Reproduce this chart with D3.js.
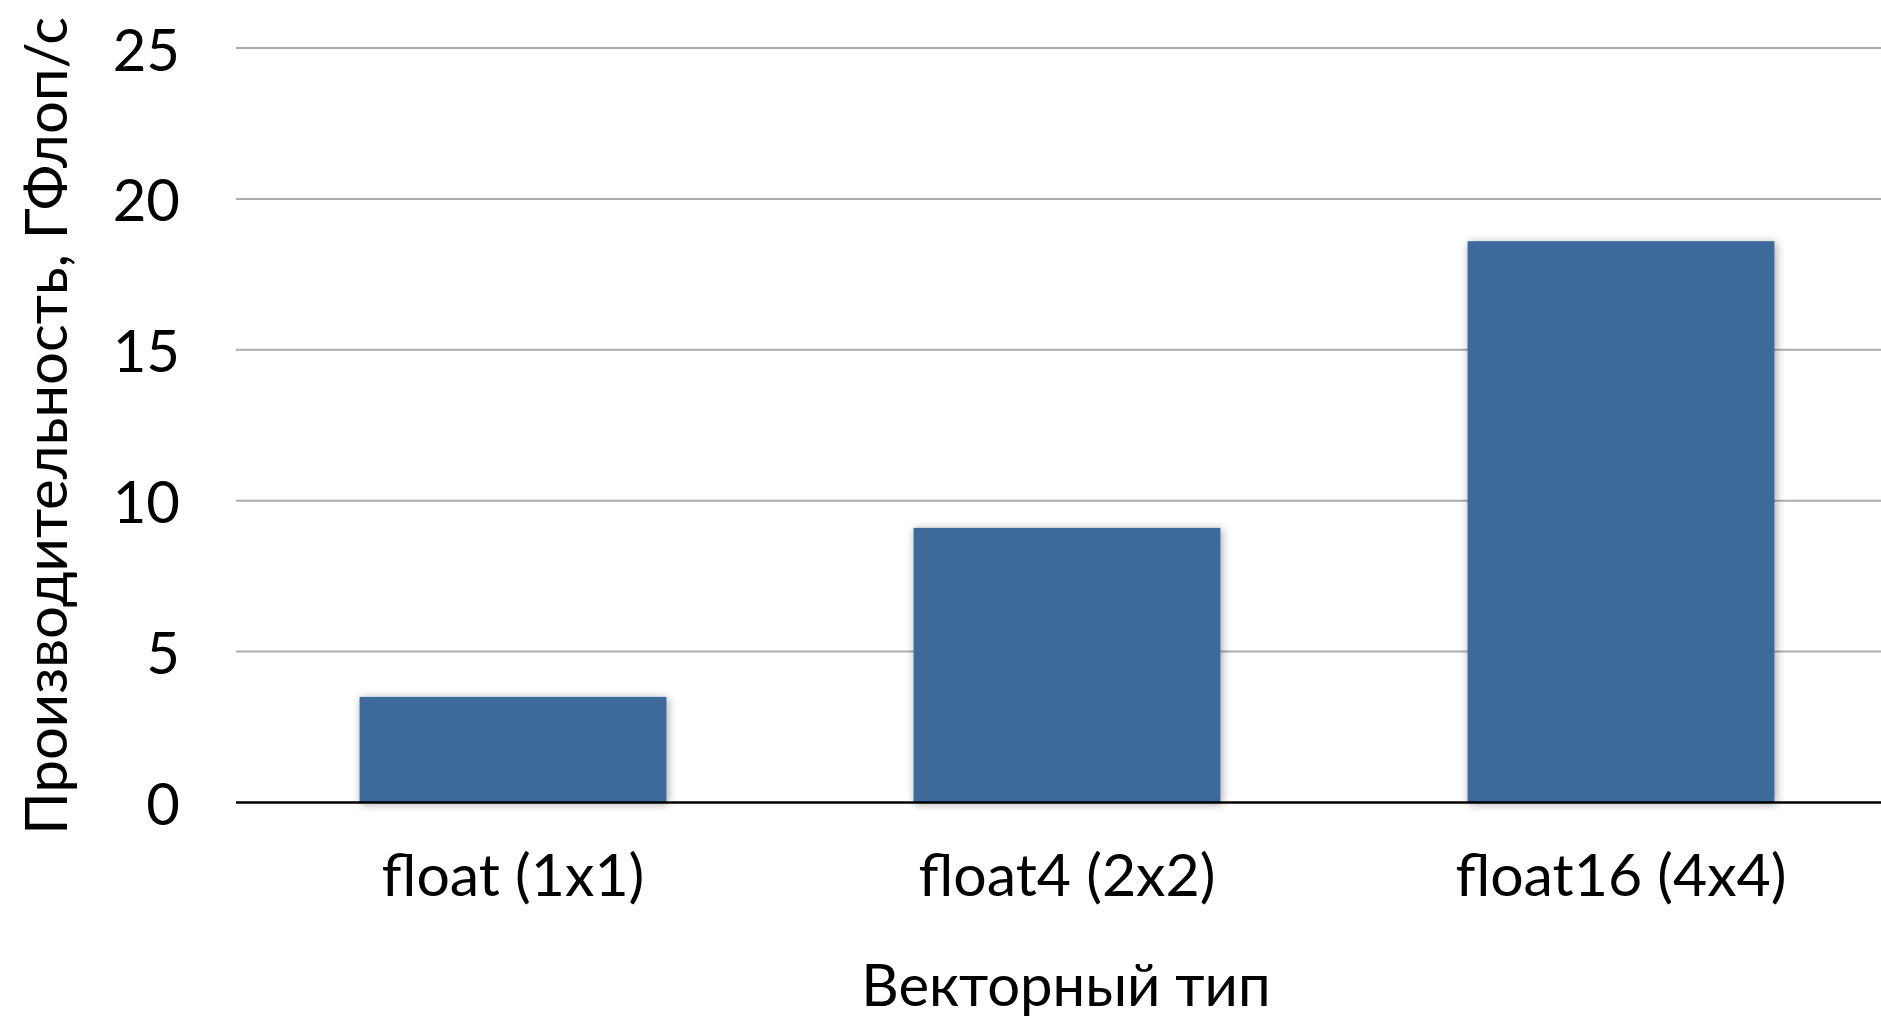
<!DOCTYPE html>
<html>
<head>
<meta charset="utf-8">
<script src="https://cdn.jsdelivr.net/npm/d3@7"></script>
<style>
  html, body { margin: 0; padding: 0; background: #fff; overflow: hidden; }
  svg { display: block; }
  text { font-family: Lato, "Noto Sans", sans-serif; fill: #000; }
</style>
</head>
<body>
<svg id="chart" width="1881" height="1018"></svg>
<script>
const categories = ["float (1x1)", "float4 (2x2)", "float16 (4x4)"];
const values = [3.5, 9.1, 18.6];
const yTicks = [0, 5, 10, 15, 20, 25];
const xTitle = "Векторный тип";
const yTitle = "Производительность, ГФлоп/с";

const W = 1881, H = 1018;
const svg = d3.select("#chart");

const x = d3.scaleBand().domain(categories).range([236, 1898]).paddingInner(0.446).paddingOuter(0.223);
const y = d3.scaleLinear().domain([0, 25]).range([802.5, 48]);

const defs = svg.append("defs");
const f = defs.append("filter").attr("id", "shadow").attr("x", "-10%").attr("y", "-10%").attr("width", "120%").attr("height", "120%");
f.append("feDropShadow").attr("dx", 1.5).attr("dy", 1.5).attr("stdDeviation", 5).attr("flood-color", "#000").attr("flood-opacity", 0.35);

// gridlines
svg.append("g").selectAll("line").data(yTicks.filter(d => d !== 0)).join("line")
  .attr("x1", 236).attr("x2", W)
  .attr("y1", d => y(d)).attr("y2", d => y(d))
  .attr("stroke", "#ababab").attr("stroke-width", 2);

// bars
svg.append("g").selectAll("rect").data(values).join("rect")
  .attr("x", (d, i) => x(categories[i]))
  .attr("width", x.bandwidth())
  .attr("y", d => y(d))
  .attr("height", d => y(0) - y(d))
  .attr("fill", "#3c6b9b")
  .attr("filter", "url(#shadow)");

// baseline
svg.append("line").attr("x1", 236).attr("x2", W).attr("y1", y(0)).attr("y2", y(0))
  .attr("stroke", "#000").attr("stroke-width", 2.5);

// y tick labels
svg.append("g").selectAll("text").data(yTicks).join("text")
  .attr("x", 180).attr("y", d => y(d))
  .attr("text-anchor", "end").attr("dominant-baseline", "central")
  .attr("font-size", 58)
  .text(d => d);

// x category labels
svg.append("g").selectAll("text").data(categories).join("text")
  .attr("x", d => x(d) + x.bandwidth() / 2).attr("y", 896)
  .attr("text-anchor", "middle")
  .attr("font-size", 59)
  .text(d => d);

// axis titles
svg.append("text").attr("x", 1066).attr("y", 1006).attr("text-anchor", "middle")
  .attr("font-size", 58).text(xTitle);

svg.append("text").attr("transform", "translate(67,426) rotate(-90)")
  .attr("text-anchor", "middle").attr("font-size", 58).text(yTitle);
</script>
</body>
</html>
